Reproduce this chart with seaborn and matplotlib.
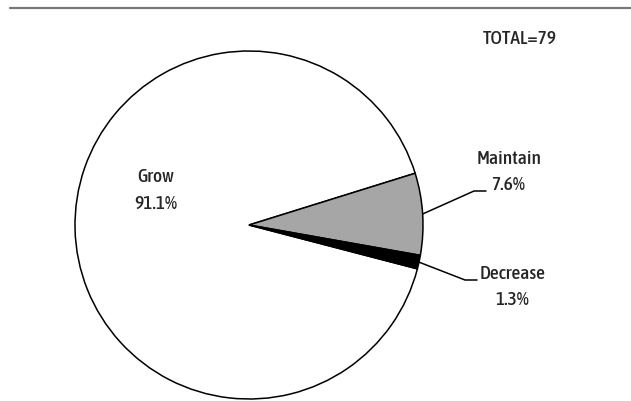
import numpy as np
import matplotlib
matplotlib.use("Agg")
import matplotlib.pyplot as plt
from matplotlib import font_manager
import seaborn as sns

# Survey responses (counts out of 79)
categories = ["Grow", "Maintain", "Decrease"]
counts = [72, 6, 1]
pct_labels = ["91.1%", "7.6%", "1.3%"]
colors = ["#ffffff", "#a6a6a6", "#000000"]
total_label = "TOTAL=79"

sns.set_theme(style="white")

# Pick a narrow, medium-weight sans face for the labels
def _w(v):
    return {"normal": 400, "regular": 400, "medium": 500, "book": 400}.get(v, v) if isinstance(v, str) else v

order = {"extra-condensed": 0, "condensed": 1, "semi-condensed": 2}
cands = [f for f in font_manager.fontManager.ttflist
         if f.stretch in order and f.style == "normal" and _w(f.weight) in (400, 500)]
cands.sort(key=lambda f: (order[f.stretch], _w(f.weight) != 500, f.name))
if cands:
    fam, stretch, weight = cands[0].name, cands[0].stretch, cands[0].weight
else:
    fam, stretch, weight = "DejaVu Sans", "normal", "normal"
plt.rcParams["font.family"] = [fam, "DejaVu Sans"]
fs = {"extra-condensed": 15, "condensed": 14}.get(stretch, 13)

W, H = 631, 402
fig = plt.figure(figsize=(W / 100, H / 100), dpi=100)
ax = fig.add_axes([0, 0, 1, 1])

cx, cy, r = 249, H - 226, 174
wedges, _ = ax.pie(counts, colors=colors, startangle=-14.6, counterclock=False,
                   center=(cx, cy), radius=r, frame=True,
                   wedgeprops=dict(edgecolor="black", linewidth=1.1))
ax.set_xlim(0, W)
ax.set_ylim(0, H)
ax.set_aspect("equal")
ax.axis("off")

txt = dict(fontsize=fs, color="#262626", ha="center", va="center",
           fontstretch=stretch, fontweight=weight)

# Grow label inside the pie
ax.text(156, H - 177.5, categories[0], **txt)
ax.text(156, H - 204.5, pct_labels[0], **txt)

# Outside labels with elbow leader lines
outside = {1: ((474, H - 192), (486, H - 192), (509, H - 159.5), (508, H - 185)),
           2: ((465, H - 281), (477, H - 281), (513, H - 274.5), (512, H - 300))}
for i, (elbow, end, npos, ppos) in outside.items():
    w = wedges[i]
    ang = np.deg2rad((w.theta1 + w.theta2) / 2)
    sx, sy = cx + r * np.cos(ang), cy + r * np.sin(ang)
    ax.plot([sx, elbow[0], end[0]], [sy, elbow[1], end[1]], color="black", lw=1.1)
    ax.text(npos[0], npos[1], categories[i], **txt)
    ax.text(ppos[0], ppos[1], pct_labels[i], **txt)

ax.text(520, H - 38.5, total_label, **txt)

# Rule across the top
ax.plot([10, W], [H - 9, H - 9], color="#777777", lw=1.6)

fig.savefig("out.png", dpi=100)
